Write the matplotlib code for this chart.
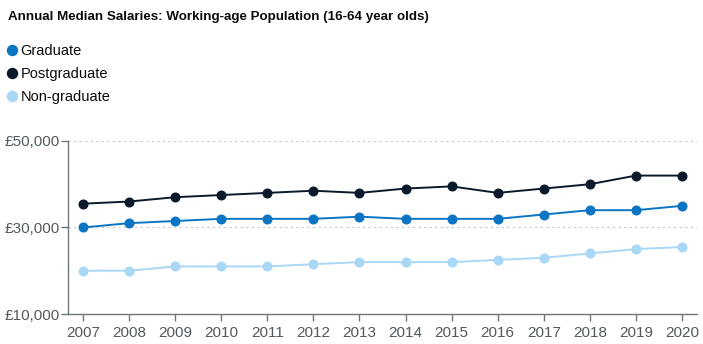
import matplotlib.pyplot as plt
from matplotlib.lines import Line2D
from matplotlib.ticker import FuncFormatter

plt.rcParams['font.family'] = ['Liberation Sans', 'DejaVu Sans']

years = list(range(2007, 2021))
graduate = [30000, 31000, 31500, 32000, 32000, 32000, 32500, 32000, 32000, 32000, 33000, 34000, 34000, 35000]
postgraduate = [35500, 36000, 37000, 37500, 38000, 38500, 38000, 39000, 39500, 38000, 39000, 40000, 42000, 42000]
non_graduate = [20000, 20000, 21000, 21000, 21000, 21500, 22000, 22000, 22000, 22500, 23000, 24000, 25000, 25500]

series = [('Graduate', graduate, '#0b75c4'),
          ('Postgraduate', postgraduate, '#0b1a2b'),
          ('Non-graduate', non_graduate, '#a9d7f6')]

fig = plt.figure(figsize=(7.03, 3.44), dpi=100)
ax = fig.add_axes([0.0967, 0.0872, 0.8948, 0.503])

for name, vals, col in series:
    ax.plot(years, vals, color=col, lw=1.4, marker='o', markersize=6.2, zorder=3, label=name)

ax.set_xlim(2006.674, 2020.326)
ax.set_ylim(10000, 50000)
ax.set_yticks([10000, 30000, 50000])
ax.set_xticks(years)
ax.yaxis.set_major_formatter(FuncFormatter(lambda v, p: f'£{int(v):,}'))
ax.grid(axis='y', color='#c8c8c8', linestyle=(0, (2, 3)), lw=0.8)
ax.set_axisbelow(True)

for s in ['top', 'right']:
    ax.spines[s].set_visible(False)
for s in ['left', 'bottom']:
    ax.spines[s].set_color('#6f777b')
    ax.spines[s].set_linewidth(1.0)
ax.tick_params(axis='both', colors='#6f777b', labelcolor='#505a5f', labelsize=11, length=5, width=1)
ax.tick_params(axis='y', pad=1)

fig.text(0.011, 0.95, 'Annual Median Salaries: Working-age Population (16-64 year olds)',
         fontsize=9.6, fontweight='bold', color='#0b0c0c', va='center')

handles = [Line2D([], [], marker='o', linestyle='none', color=c, markersize=7.2) for _, _, c in series]
fig.legend(handles, [n for n, _, _ in series], loc='upper left', bbox_to_anchor=(-0.006, 0.888),
           frameon=False, fontsize=10.5, handletextpad=-0.1, labelspacing=0.62, borderaxespad=0,
           handlelength=1.4, labelcolor='#0b0c0c')

fig.savefig('out.png', dpi=100)
